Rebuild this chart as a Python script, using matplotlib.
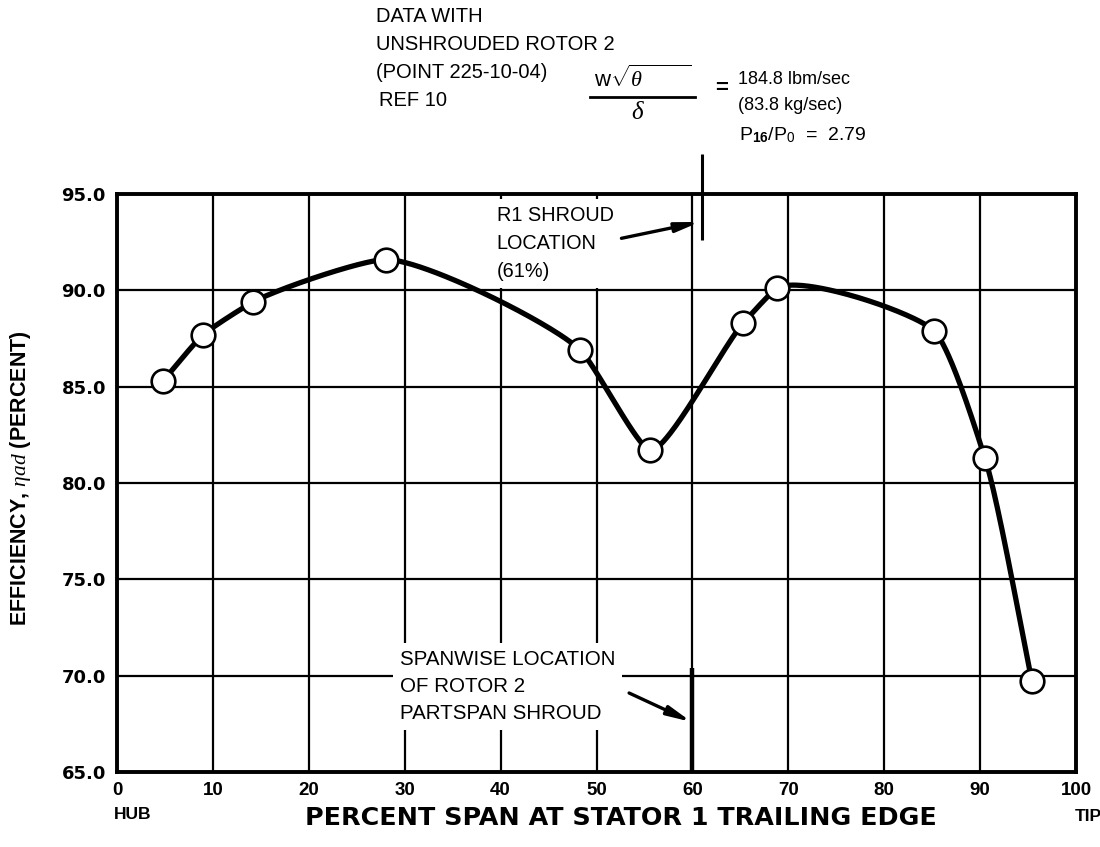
import numpy as np
import matplotlib
matplotlib.use('Agg')
import matplotlib.pyplot as plt
from matplotlib.lines import Line2D

# spanwise efficiency survey, stator 1 trailing edge
span_pct = [4.8, 9.0, 14.2, 28.0, 48.3, 55.6, 65.3, 68.8, 85.2, 90.5, 95.4]
efficiency = [85.3, 87.7, 89.4, 91.6, 86.9, 81.7, 88.3, 90.1, 87.9, 81.3, 69.7]

x_ticks = [0, 10, 20, 30, 40, 50, 60, 70, 80, 90, 100]
y_ticks = [65.0, 70.0, 75.0, 80.0, 85.0, 90.0, 95.0]

r1_shroud = 61.0   # R1 shroud location, percent span
r2_shroud = 60.0   # rotor 2 partspan shroud, percent span

W, H = 1100, 847

plt.rcParams['font.family'] = ['Liberation Sans', 'DejaVu Sans']
plt.rcParams['mathtext.fontset'] = 'custom'
plt.rcParams['mathtext.rm'] = 'Liberation Sans'
plt.rcParams['mathtext.it'] = 'Liberation Serif:italic'
plt.rcParams['mathtext.bf'] = 'Liberation Sans:bold'


def faired_curve(x, y, tension=0.45, sx=9.6, sy=19.3, n=80):
    """Tensioned chord-length Hermite spline through the points, built in
    screen-like units so the corners round evenly; tension > 0 pulls the
    segments towards straight lines."""
    P = np.column_stack([np.asarray(x, float) * sx, np.asarray(y, float) * sy])
    seg = np.diff(P, axis=0)
    L = np.linalg.norm(seg, axis=1)
    u = seg / L[:, None]
    T = np.zeros_like(P)
    T[0], T[-1] = u[0], u[-1]
    for i in range(1, len(P) - 1):
        a, b = L[i - 1], L[i]
        T[i] = (u[i - 1] * b + u[i] * a) / (a + b)
    t = np.linspace(0, 1, n)[:, None]
    h00 = 2 * t**3 - 3 * t**2 + 1
    h10 = t**3 - 2 * t**2 + t
    h01 = -2 * t**3 + 3 * t**2
    h11 = t**3 - t**2
    pts = []
    for i in range(len(P) - 1):
        k = (1 - tension) * L[i]
        c = h00 * P[i] + h10 * k * T[i] + h01 * P[i + 1] + h11 * k * T[i + 1]
        pts.append(c if i == 0 else c[1:])
    pts = np.vstack(pts)
    return pts[:, 0] / sx, pts[:, 1] / sy


fig = plt.figure(figsize=(W / 100, H / 100), dpi=100)
ax = fig.add_axes([117 / W, 1 - 772 / H, (1076 - 117) / W, (772 - 194) / H])

ax.set_xlim(0, 100)
ax.set_ylim(65, 95)
ax.set_xticks(x_ticks)
ax.set_xticklabels([str(v) for v in x_ticks])
ax.set_yticks(y_ticks)
ax.set_yticklabels([f'{v:.1f}' for v in y_ticks])
ax.set_axisbelow(True)
ax.grid(True, color='black', lw=1.6)
ax.tick_params(axis='x', length=0, labelsize=13.5, pad=7)
ax.tick_params(axis='y', length=0, labelsize=13, pad=8)
for lab in ax.get_xticklabels():
    lab.set_fontweight('bold')
for lab in ax.get_yticklabels():
    lab.set_fontweight('bold')
    lab.set_family(['DejaVu Sans'])
for sp in ax.spines.values():
    sp.set_linewidth(2.8)

# faired curve through the data, circles on top
cx, cy = faired_curve(span_pct, efficiency)
ax.plot(cx, cy, color='black', lw=3.8, solid_capstyle='round', zorder=3)
ax.plot(span_pct, efficiency, 'o', ms=17, mfc='white', mec='black',
        mew=1.9, zorder=4)

# shroud location markers
ax.plot([r2_shroud, r2_shroud], [65, 70.4], color='black', lw=3.2,
        solid_capstyle='butt', zorder=2)
ax.plot([r1_shroud, r1_shroud], [92.6, 97.1], color='black', lw=2.2,
        solid_capstyle='butt', clip_on=False, zorder=2)

box = dict(facecolor='white', edgecolor='none', pad=5)
arrow = dict(arrowstyle='-|>,head_length=1.4,head_width=0.28',
             color='black', lw=2.4, shrinkA=0, shrinkB=0)

ax.text(39.6, 92.45, 'R1 SHROUD\nLOCATION\n(61%)', fontsize=14.3,
        ha='left', va='center', linespacing=1.6, bbox=box, zorder=2.5)
ax.annotate('', xy=(r1_shroud - 0.2, 93.55), xytext=(52.6, 92.7),
            arrowprops=arrow)

ax.text(29.5, 69.45, 'SPANWISE LOCATION\nOF ROTOR 2\nPARTSPAN SHROUD',
        fontsize=14.8, ha='left', va='center', linespacing=1.55, bbox=box,
        zorder=2.5)
ax.annotate('', xy=(r2_shroud - 0.1, 67.6), xytext=(53.4, 69.1),
            arrowprops=arrow)

# axis titles
fig.text(621 / W, 1 - 818 / H, 'PERCENT SPAN AT STATOR 1 TRAILING EDGE',
         ha='center', va='center', fontsize=18.3, fontweight='bold',
         family=['DejaVu Sans'])
fig.text(133 / W, 1 - 814 / H, 'HUB', ha='center', va='center',
         fontsize=12.5, fontweight='bold')
fig.text(1088 / W, 1 - 816 / H, 'TIP', ha='center', va='center',
         fontsize=12.5, fontweight='bold')
fig.text(21 / W, 1 - 478 / H, r'EFFICIENCY, $\eta ad$ (PERCENT)',
         ha='center', va='center', rotation=90, fontsize=15.5,
         fontweight='bold')

# operating point note above the plot
note_lines = [('DATA WITH', 376, 17), ('UNSHROUDED ROTOR 2', 376, 44),
              ('(POINT 225-10-04)', 376, 72), ('REF 10', 379, 101)]
for s, px, py in note_lines:
    fig.text(px / W, 1 - py / H, s, ha='left', va='center', fontsize=14.5)

fig.text(594 / W, 1 - 79 / H, r'w$\sqrt{\theta\;\;\;\;\;\;\;\;\;\;}$',
         ha='left', va='center', fontsize=16)
fig.add_artist(Line2D([590 / W, 695 / W], [1 - 97 / H, 1 - 97 / H],
                      color='black', lw=2.0))
fig.text(638 / W, 1 - 112 / H, r'$\delta$', ha='center', va='center',
         fontsize=18)
fig.text(722 / W, 1 - 88 / H, '=', ha='center', va='center', fontsize=16,
         fontweight='bold')
fig.text(738 / W, 1 - 80 / H, '184.8 lbm/sec', ha='left', va='center',
         fontsize=13)
fig.text(738 / W, 1 - 105 / H, '(83.8 kg/sec)', ha='left', va='center',
         fontsize=13)
fig.text(739 / W, 1 - 135 / H, r'P$_{\mathbf{16}}$/P$_{\mathrm{0}}$  =  2.79',
         ha='left', va='center', fontsize=14)

fig.savefig('out.png', dpi=100)
